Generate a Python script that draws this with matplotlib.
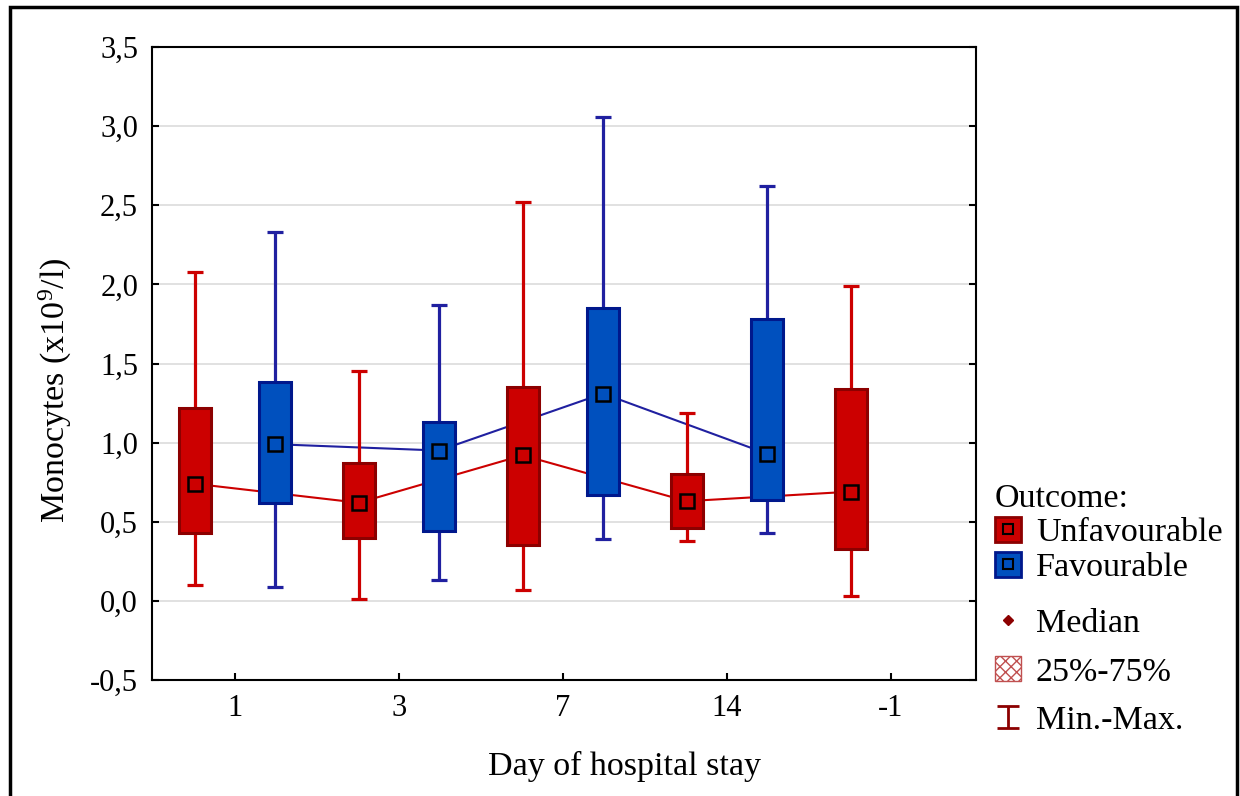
import numpy as np
import matplotlib
matplotlib.use("Agg")
import matplotlib.pyplot as plt
from matplotlib.patches import Patch, Rectangle
from matplotlib.lines import Line2D
from matplotlib.path import Path

plt.rcParams['font.family'] = ['Liberation Serif', 'DejaVu Serif']
plt.rcParams['mathtext.fontset'] = 'custom'
plt.rcParams['mathtext.rm'] = 'Liberation Serif'
plt.rcParams['mathtext.it'] = 'Liberation Serif:italic'

days = ['1', '3', '7', '14', '-1']

# Unfavourable outcome (red), one value per day
unf_min = [0.10, 0.01, 0.07, 0.38, 0.03]
unf_q1 = [0.43, 0.40, 0.35, 0.46, 0.33]
unf_med = [0.74, 0.62, 0.92, 0.63, 0.69]
unf_q3 = [1.22, 0.87, 1.35, 0.80, 1.34]
unf_max = [2.08, 1.45, 2.52, 1.19, 1.99]

# Favourable outcome (blue), no data for day -1
fav_min = [0.09, 0.13, 0.39, 0.43]
fav_q1 = [0.62, 0.44, 0.67, 0.64]
fav_med = [0.99, 0.95, 1.31, 0.93]
fav_q3 = [1.38, 1.13, 1.85, 1.78]
fav_max = [2.33, 1.87, 3.06, 2.62]

yticks = [-0.5, 0.0, 0.5, 1.0, 1.5, 2.0, 2.5, 3.0, 3.5]

W, H = 1240, 796
fig = plt.figure(figsize=(W / 100, H / 100), dpi=100)
ax = fig.add_axes([152 / W, 1 - 680 / H, (976 - 152) / W, (680 - 47) / H])

red, red_edge = '#cc0000', '#8c0000'
blue, blue_edge = '#0050be', '#00188c'
off = 0.245
bw = 0.195


def draw_group(xpos, mn, q1, med, q3, mx, face, edge, wcol):
    xpos = np.asarray(xpos, dtype=float)
    med = np.asarray(med)
    ax.plot(xpos, med, color=wcol, lw=1.5, zorder=1.5)
    ax.errorbar(xpos, med, yerr=[med - np.asarray(mn), np.asarray(mx) - med],
                fmt='none', ecolor=wcol, elinewidth=2.3, capsize=5.8,
                capthick=2.3, zorder=2)
    ax.bar(xpos, np.asarray(q3) - np.asarray(q1), bottom=q1, width=bw,
           color=face, edgecolor=edge, linewidth=2.2, zorder=3)
    ax.plot(xpos, med, ls='none', marker='s', ms=9.5, mfc='none', mec='black',
            mew=1.8, zorder=4)


x = np.arange(len(days))
draw_group(x - off, unf_min, unf_q1, unf_med, unf_q3, unf_max,
           red, red_edge, '#cc0000')
draw_group(x[:len(fav_med)] + off, fav_min, fav_q1, fav_med, fav_q3, fav_max,
           blue, blue_edge, '#2020a0')

ax.set_xlim(-0.506, 4.52)
ax.set_ylim(-0.5, 3.5)
ax.set_xticks(x)
ax.set_xticklabels(days)
ax.set_yticks(yticks)
ax.set_yticklabels([f'{v:.1f}'.replace('.', ',') for v in yticks])
ax.tick_params(direction='in', length=5, width=1.5, labelsize=22, pad=10,
               right=True, top=False)
ax.grid(axis='y', color='#dcdcdc', lw=1.2, zorder=0)
ax.set_axisbelow(True)
for s in ax.spines.values():
    s.set_linewidth(1.5)

# axis titles sit where the original put them (not centred on the axes)
fig.text(625 / W, 1 - 766 / H, 'Day of hospital stay', fontsize=24.5,
         ha='center', va='center')
fig.text(55 / W, 1 - 390 / H, 'Monocytes (x10$^{9}$/l)', fontsize=24.5,
         ha='center', va='center', rotation=90)

# legend, in two parts because the rows are spaced differently
i_path = Path([(-1, 1), (1, 1), (0, 1), (0, -1), (-1, -1), (1, -1)],
              [Path.MOVETO, Path.LINETO, Path.MOVETO, Path.LINETO,
               Path.MOVETO, Path.LINETO])
sq = dict(ls='none', marker='s', ms=7, mfc='none', mec='black', mew=1.5)
handles1 = [
    (Patch(fc=red, ec=red_edge, lw=2), Line2D([], [], **sq)),
    (Patch(fc=blue, ec=blue_edge, lw=2), Line2D([], [], **sq)),
]
labels1 = ['Unfavourable', 'Favourable']
handles2 = [
    Line2D([], [], ls='none', marker='D', ms=5, color='#8c0000'),
    Patch(fc='white', ec='#c05050', hatch='xxx', lw=1),
    Line2D([], [], ls='none', marker=i_path, ms=16, mew=2, mfc='none',
           mec='#8c0000'),
]
labels2 = ['Median', '25%-75%', 'Min.-Max.']
common = dict(frameon=False, fontsize=24.5, handlelength=0.75,
              handleheight=0.75, handletextpad=0.45, borderaxespad=0,
              borderpad=0, loc='center left')
leg1 = fig.legend(handles1, labels1, title='Outcome:', title_fontsize=24.5,
                  alignment='left', labelspacing=0.1,
                  bbox_to_anchor=(995 / W, 1 - 533 / H), **common)
leg2 = fig.legend(handles2, labels2, labelspacing=0.5,
                  bbox_to_anchor=(995 / W, 1 - 672 / H), **common)

fig.add_artist(Rectangle((10 / W, -0.05), (1237 - 10) / W, 1 - 7 / H + 0.05,
                         transform=fig.transFigure, fill=False, lw=2.5,
                         ec='black'))

fig.savefig('out.png', dpi=100)
